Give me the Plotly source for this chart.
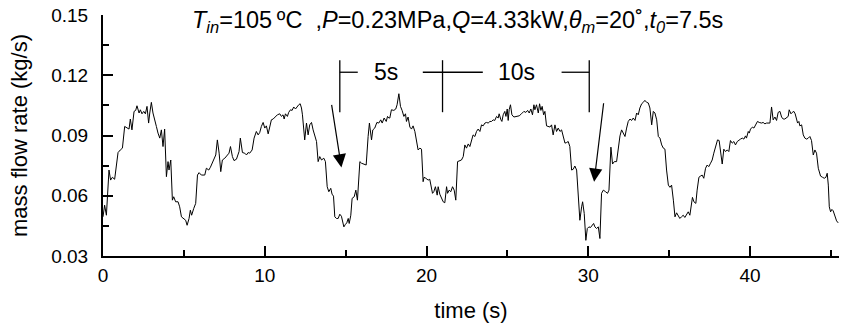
import plotly.graph_objects as go

# ---- data (time in s, mass flow rate in kg/s) ----
time_s = [
    0.00, 0.10, 0.21, 0.37, 0.47, 0.58, 0.72, 0.93, 1.07, 1.20, 1.34, 1.48, 1.61, 1.69, 1.79, 1.92,
    2.02, 2.10, 2.23, 2.31, 2.41, 2.52, 2.62, 2.72, 2.82, 2.89, 2.99, 3.09, 3.20, 3.30, 3.40, 3.51,
    3.61, 3.71, 3.81, 3.92, 4.02, 4.08, 4.19, 4.29, 4.37, 4.49, 4.64, 4.74, 4.85, 4.99, 5.11, 5.20,
    5.32, 5.40, 5.48, 5.61, 5.73, 5.84, 5.94, 6.08, 6.29, 6.39, 6.54, 6.64, 6.80, 6.97, 7.07, 7.18,
    7.28, 7.38, 7.53, 7.67, 7.79, 7.88, 8.00, 8.10, 8.25, 8.41, 8.49, 8.62,
    8.76, 8.87, 8.97, 9.07, 9.22, 9.34, 9.48, 9.59, 9.69, 9.79, 9.90, 10.00, 10.10, 10.21, 10.31,
    10.41, 10.52, 10.66, 10.78, 10.93, 11.03, 11.13, 11.20, 11.28, 11.40, 11.48, 11.59, 11.69,
    11.79, 11.90, 12.00, 12.10, 12.19, 12.27, 12.33, 12.39, 12.47, 12.58, 12.68, 12.78, 12.89,
    12.99, 13.09, 13.20, 13.30, 13.40, 13.51, 13.65, 13.75, 13.86, 13.96, 14.08, 14.16, 14.25,
    14.33, 14.43, 14.54, 14.64, 14.74, 14.80, 14.89, 14.99, 15.07, 15.16, 15.22, 15.32, 15.40,
    15.53, 15.63, 15.73, 15.83, 15.88, 15.98, 16.14, 16.27, 16.39, 16.47, 16.60, 16.68, 16.80,
    16.93, 17.05, 17.17, 17.26, 17.38, 17.51, 17.59, 17.67,
    17.73, 17.83, 17.98, 18.10, 18.18, 18.29, 18.39, 18.49, 18.60, 18.70, 18.76, 18.86, 18.97,
    19.07, 19.17, 19.28, 19.38, 19.48, 19.59, 19.69, 19.79, 19.85, 19.96, 20.10, 20.20, 20.31,
    20.37, 20.45, 20.55, 20.66, 20.72, 20.82, 20.93, 21.03, 21.13, 21.24, 21.30, 21.40, 21.50,
    21.61, 21.71, 21.81, 21.92, 22.02, 22.16, 22.27, 22.37, 22.47, 22.58, 22.68, 22.78, 22.88,
    22.99, 23.09, 23.19, 23.30, 23.40, 23.50, 23.61, 23.71, 23.81, 23.92, 24.02, 24.12, 24.22,
    24.33, 24.43, 24.49, 24.60, 24.66, 24.74, 24.84, 24.91, 24.99, 25.05, 25.11, 25.19, 25.28,
    25.40, 25.56, 25.73, 25.87, 26.02, 26.14, 26.25, 26.35, 26.45, 26.55, 26.64,
    26.70, 26.80, 26.91, 26.99, 27.07, 27.15, 27.24, 27.32, 27.42, 27.52, 27.63, 27.73, 27.83,
    27.94, 28.04, 28.14, 28.25, 28.35, 28.45, 28.56, 28.66, 28.76, 28.86, 28.97, 29.07, 29.17,
    29.28, 29.38, 29.48, 29.59, 29.65, 29.75, 29.85, 29.94, 30.04, 30.14, 30.25, 30.33, 30.41,
    30.51, 30.62, 30.72, 30.82, 30.93, 31.07, 31.19, 31.28, 31.40, 31.50, 31.61, 31.75, 31.85,
    31.96, 32.06, 32.16, 32.27, 32.37, 32.47, 32.58, 32.68, 32.78, 32.89, 32.99, 33.09, 33.19,
    33.30, 33.40, 33.50, 33.61, 33.71, 33.81, 33.92, 34.02, 34.12, 34.23, 34.33, 34.43, 34.54,
    34.64, 34.74, 34.84, 34.95, 35.05, 35.15, 35.26, 35.36, 35.46, 35.57,
    35.66, 35.76, 35.87, 35.97, 36.07, 36.18, 36.28, 36.38, 36.44, 36.53, 36.65, 36.73, 36.84,
    36.94, 37.04, 37.14, 37.25, 37.35, 37.45, 37.56, 37.66, 37.76, 37.89, 37.99, 38.09, 38.18,
    38.28, 38.38, 38.48, 38.59, 38.69, 38.79, 38.90, 39.00, 39.10, 39.21, 39.31, 39.41, 39.52,
    39.62, 39.72, 39.78, 39.89, 39.95, 40.03, 40.15, 40.24, 40.36, 40.46, 40.57, 40.71, 40.81,
    40.92, 41.02, 41.23, 41.33, 41.43, 41.54, 41.64, 41.74, 41.85, 41.95, 42.05, 42.15, 42.26,
    42.36, 42.42, 42.53, 42.61, 42.71, 42.79, 42.88, 42.94, 43.02, 43.08, 43.19, 43.29, 43.39,
    43.50, 43.60, 43.70, 43.80, 43.91, 44.01, 44.11, 44.22, 44.28, 44.36, 44.48, 44.59, 44.69,
    44.77, 44.84, 44.90, 44.98, 45.06, 45.14, 45.25, 45.35, 45.45, 45.52,
]

mass_flow = [
    0.0495, 0.0553, 0.0503, 0.0728, 0.0678, 0.0692, 0.0682, 0.0815, 0.0828, 0.0837, 0.0945, 0.0937,
    0.0932, 0.0982, 0.0928, 0.1020, 0.1025, 0.1048, 0.1012, 0.1028, 0.1008, 0.1020, 0.1008, 0.1045,
    0.0962, 0.1012, 0.1065, 0.1012, 0.0970, 0.0945, 0.0912, 0.0887, 0.0928, 0.0845, 0.0932, 0.0695,
    0.0770, 0.0728, 0.0778, 0.0578, 0.0595, 0.0570, 0.0570, 0.0545, 0.0495, 0.0487, 0.0478, 0.0453,
    0.0487, 0.0528, 0.0503, 0.0537, 0.0562, 0.0703, 0.0715, 0.0703, 0.0703, 0.0737, 0.0728, 0.0742,
    0.0770, 0.0803, 0.0878, 0.0812, 0.0720, 0.0778, 0.0787, 0.0803, 0.0812, 0.0845, 0.0795, 0.0775,
    0.0782, 0.0820, 0.0887, 0.0815,
    0.0812, 0.0803, 0.0815, 0.0812, 0.0828, 0.0887, 0.0920, 0.0903, 0.0915, 0.0945, 0.0965, 0.0937,
    0.0948, 0.0908, 0.0953, 0.0978, 0.0982, 0.0995, 0.1003, 0.1008, 0.0995, 0.1003, 0.0982, 0.1008,
    0.0995, 0.1015, 0.1028, 0.1025, 0.1042, 0.1032, 0.1045, 0.1053, 0.1058, 0.1037, 0.1003, 0.0962,
    0.0878, 0.0962, 0.0903, 0.0953, 0.0965, 0.0928, 0.0895, 0.0870, 0.0770, 0.0795, 0.0778, 0.0787,
    0.0770, 0.0645, 0.0620, 0.0637, 0.0608, 0.0598, 0.0495, 0.0487, 0.0487, 0.0508, 0.0498, 0.0470,
    0.0445, 0.0458, 0.0465, 0.0487, 0.0462, 0.0503, 0.0587, 0.0595, 0.0628, 0.0578, 0.0712, 0.0770,
    0.0762, 0.0758, 0.0753, 0.0895, 0.0962, 0.0878, 0.0928, 0.0937, 0.0965, 0.0962, 0.0978, 0.0962,
    0.0987, 0.0970, 0.0995, 0.0987,
    0.0987, 0.1028, 0.1025, 0.1032, 0.1053, 0.1108, 0.1045, 0.1025, 0.0995, 0.1008, 0.0970, 0.0992,
    0.0942, 0.0932, 0.0948, 0.0920, 0.0878, 0.0828, 0.0837, 0.0832, 0.0670, 0.0692, 0.0687, 0.0678,
    0.0682, 0.0628, 0.0612, 0.0620, 0.0645, 0.0603, 0.0645, 0.0608, 0.0587, 0.0570, 0.0565, 0.0645,
    0.0612, 0.0628, 0.0620, 0.0645, 0.0628, 0.0578, 0.0770, 0.0775, 0.0778, 0.0795, 0.0853, 0.0837,
    0.0858, 0.0845, 0.0878, 0.0903, 0.0895, 0.0920, 0.0932, 0.0920, 0.0953, 0.0948, 0.0962, 0.0965,
    0.0962, 0.0970, 0.0970, 0.0978, 0.0975, 0.0995, 0.0987, 0.1008, 0.0978, 0.0970, 0.1003, 0.1020,
    0.0995, 0.1032, 0.0975, 0.1028, 0.1053, 0.1003, 0.0992, 0.0995, 0.0998, 0.1008, 0.1020, 0.1015,
    0.1025, 0.1012, 0.1032, 0.1003, 0.1053,
    0.1028, 0.1053, 0.1012, 0.1058, 0.1025, 0.1045, 0.1003, 0.1020, 0.0948, 0.0945, 0.0942, 0.0953,
    0.0903, 0.0953, 0.0920, 0.0937, 0.0920, 0.0928, 0.0895, 0.0862, 0.0865, 0.0870, 0.0845, 0.0728,
    0.0732, 0.0748, 0.0728, 0.0595, 0.0478, 0.0545, 0.0570, 0.0512, 0.0378, 0.0437, 0.0445, 0.0442,
    0.0453, 0.0462, 0.0445, 0.0437, 0.0445, 0.0387, 0.0612, 0.0628, 0.0620, 0.0612, 0.0628, 0.0842,
    0.0758, 0.0770, 0.0770, 0.0828, 0.0898, 0.0928, 0.0915, 0.0895, 0.0937, 0.0970, 0.0982, 0.0975,
    0.0987, 0.0975, 0.1012, 0.1003, 0.1037, 0.1058, 0.1065, 0.1075, 0.1065, 0.1062, 0.1037, 0.0953,
    0.1020, 0.1012, 0.0978, 0.0895, 0.0887, 0.0853, 0.0837, 0.0832, 0.0728, 0.0653, 0.0642, 0.0653,
    0.0578, 0.0495, 0.0515, 0.0495,
    0.0487, 0.0495, 0.0503, 0.0492, 0.0508, 0.0520, 0.0503, 0.0553, 0.0592, 0.0570, 0.0562, 0.0628,
    0.0692, 0.0698, 0.0703, 0.0687, 0.0737, 0.0753, 0.0745, 0.0762, 0.0778, 0.0812, 0.0853, 0.0878,
    0.0875, 0.0828, 0.0758, 0.0832, 0.0820, 0.0828, 0.0820, 0.0875, 0.0862, 0.0870, 0.0853, 0.0870,
    0.0878, 0.0882, 0.0887, 0.0882, 0.0898, 0.0887, 0.0920, 0.0912, 0.0932, 0.0942, 0.0937, 0.0953,
    0.0970, 0.0965, 0.0962, 0.0965, 0.0958, 0.0962, 0.0962, 0.1042, 0.0978, 0.0992, 0.0975, 0.1015,
    0.1020, 0.0992, 0.0982, 0.0982, 0.0987, 0.0995, 0.1028, 0.1008, 0.1015, 0.1020, 0.1008, 0.0978,
    0.0962, 0.0970, 0.0948, 0.0953, 0.0903, 0.0887, 0.0882, 0.0887, 0.0895, 0.0875, 0.0803, 0.0828,
    0.0812, 0.0737, 0.0712, 0.0698, 0.0692, 0.0687, 0.0692, 0.0712, 0.0653, 0.0545, 0.0520, 0.0532,
    0.0525, 0.0503, 0.0475, 0.0465,
]

x_tick_vals = [0, 10, 20, 30, 40]
y_tick_vals = [0.03, 0.06, 0.09, 0.12, 0.15]

# period markers (time positions, s) and labels
bracket_5s = [14.64, 15.75]          # left end, end of right stub
bracket_mid = [19.77, 20.99, 23.48]  # left stub start, cross position, right stub end
bracket_10s = [28.35, 30.06]         # stub start, right end
bracket_y = [0.1016, 0.1215, 0.1275]  # bottom, horizontal level, top
label_5s = (17.48, 0.1218, "5s")
label_10s = (25.55, 0.1218, "10s")
arrows = [  # (tip_t, tip_v, tail_t, tail_v)
    (14.74, 0.0741, 14.12, 0.1060),
    (30.36, 0.0670, 30.96, 0.1068),
]

FONT = "Liberation Sans, Arial, Helvetica, sans-serif"

fig = go.Figure()
fig.add_trace(go.Scatter(
    x=time_s, y=mass_flow, mode="lines",
    line=dict(color="black", width=1),
    showlegend=False, hoverinfo="skip",
))

shapes = []
def seg(x0, y0, x1, y1):
    shapes.append(dict(type="line", xref="x", yref="y", x0=x0, y0=y0, x1=x1, y1=y1,
                       line=dict(color="black", width=1.3)))

yb, yh, yt = bracket_y
seg(bracket_5s[0], yb, bracket_5s[0], yt)
seg(bracket_5s[0], yh, bracket_5s[1], yh)
seg(bracket_mid[1], yb, bracket_mid[1], yt)
seg(bracket_mid[0], yh, bracket_mid[2], yh)
seg(bracket_10s[1], yb, bracket_10s[1], yt)
seg(bracket_10s[0], yh, bracket_10s[1], yh)

annotations = []
for (lx, ly, lt) in (label_5s, label_10s):
    annotations.append(dict(x=lx, y=ly, xref="x", yref="y", text=lt, showarrow=False,
                            font=dict(family=FONT, size=23, color="black")))
for (tx, tv, ax, av) in arrows:
    annotations.append(dict(x=tx, y=tv, ax=ax, ay=av, xref="x", yref="y", axref="x", ayref="y",
                            text="", showarrow=True, arrowhead=2, arrowsize=2.2,
                            arrowwidth=1.2, arrowcolor="black"))

title_html = ("<i>T</i><sub><i>in</i></sub>=105\u2009ºC\u00a0\u00a0,<i>P</i>=0.23MPa,"
              "<i>Q</i>=4.33kW,<i>θ</i><sub><i>m</i></sub>=20˚,<i>t</i><sub><i>0</i></sub>=7.5s")
annotations.append(dict(x=5.37, y=0.1470, xref="x", yref="y", xanchor="left", yanchor="middle",
                        text=title_html, showarrow=False,
                        font=dict(family=FONT, size=23.5, color="black")))

fig.update_layout(
    width=845, height=323,
    margin=dict(l=103, r=6, t=15, b=67),
    paper_bgcolor="white", plot_bgcolor="white",
    font=dict(family=FONT, size=19, color="black"),
    shapes=shapes, annotations=annotations,
    showlegend=False,
)

fig.update_xaxes(
    range=[0, 45.5], tickvals=x_tick_vals, ticktext=[str(v) for v in x_tick_vals],
    ticks="inside", ticklen=10, tickwidth=2, tickcolor="black",
    minor=dict(ticks="inside", ticklen=6, tickwidth=2, tickcolor="black", dtick=5, tick0=0),
    showline=True, linecolor="black", linewidth=2, showgrid=False, zeroline=False,
    tickfont=dict(size=19), ticklabelstandoff=1, automargin=False,
    title=dict(text="time (s)", font=dict(size=22), standoff=19),
)
fig.update_yaxes(
    range=[0.03, 0.15], tickvals=y_tick_vals, ticktext=[f"{v:.2f}" for v in y_tick_vals],
    ticks="inside", ticklen=10, tickwidth=2, tickcolor="black",
    minor=dict(ticks="inside", ticklen=6, tickwidth=2, tickcolor="black", dtick=0.015, tick0=0.03),
    showline=True, linecolor="black", linewidth=2, showgrid=False, zeroline=False,
    tickfont=dict(size=19), ticklabelstandoff=9, automargin=False,
    title=dict(text="mass flow rate (kg/s)", font=dict(size=22), standoff=18),
)

# remove the default 8 px page margin so the figure fills the 845x323 window exactly
fig.write_html("out.html", config={"displayModeBar": False},
               post_script="document.body.style.margin='0px';")
